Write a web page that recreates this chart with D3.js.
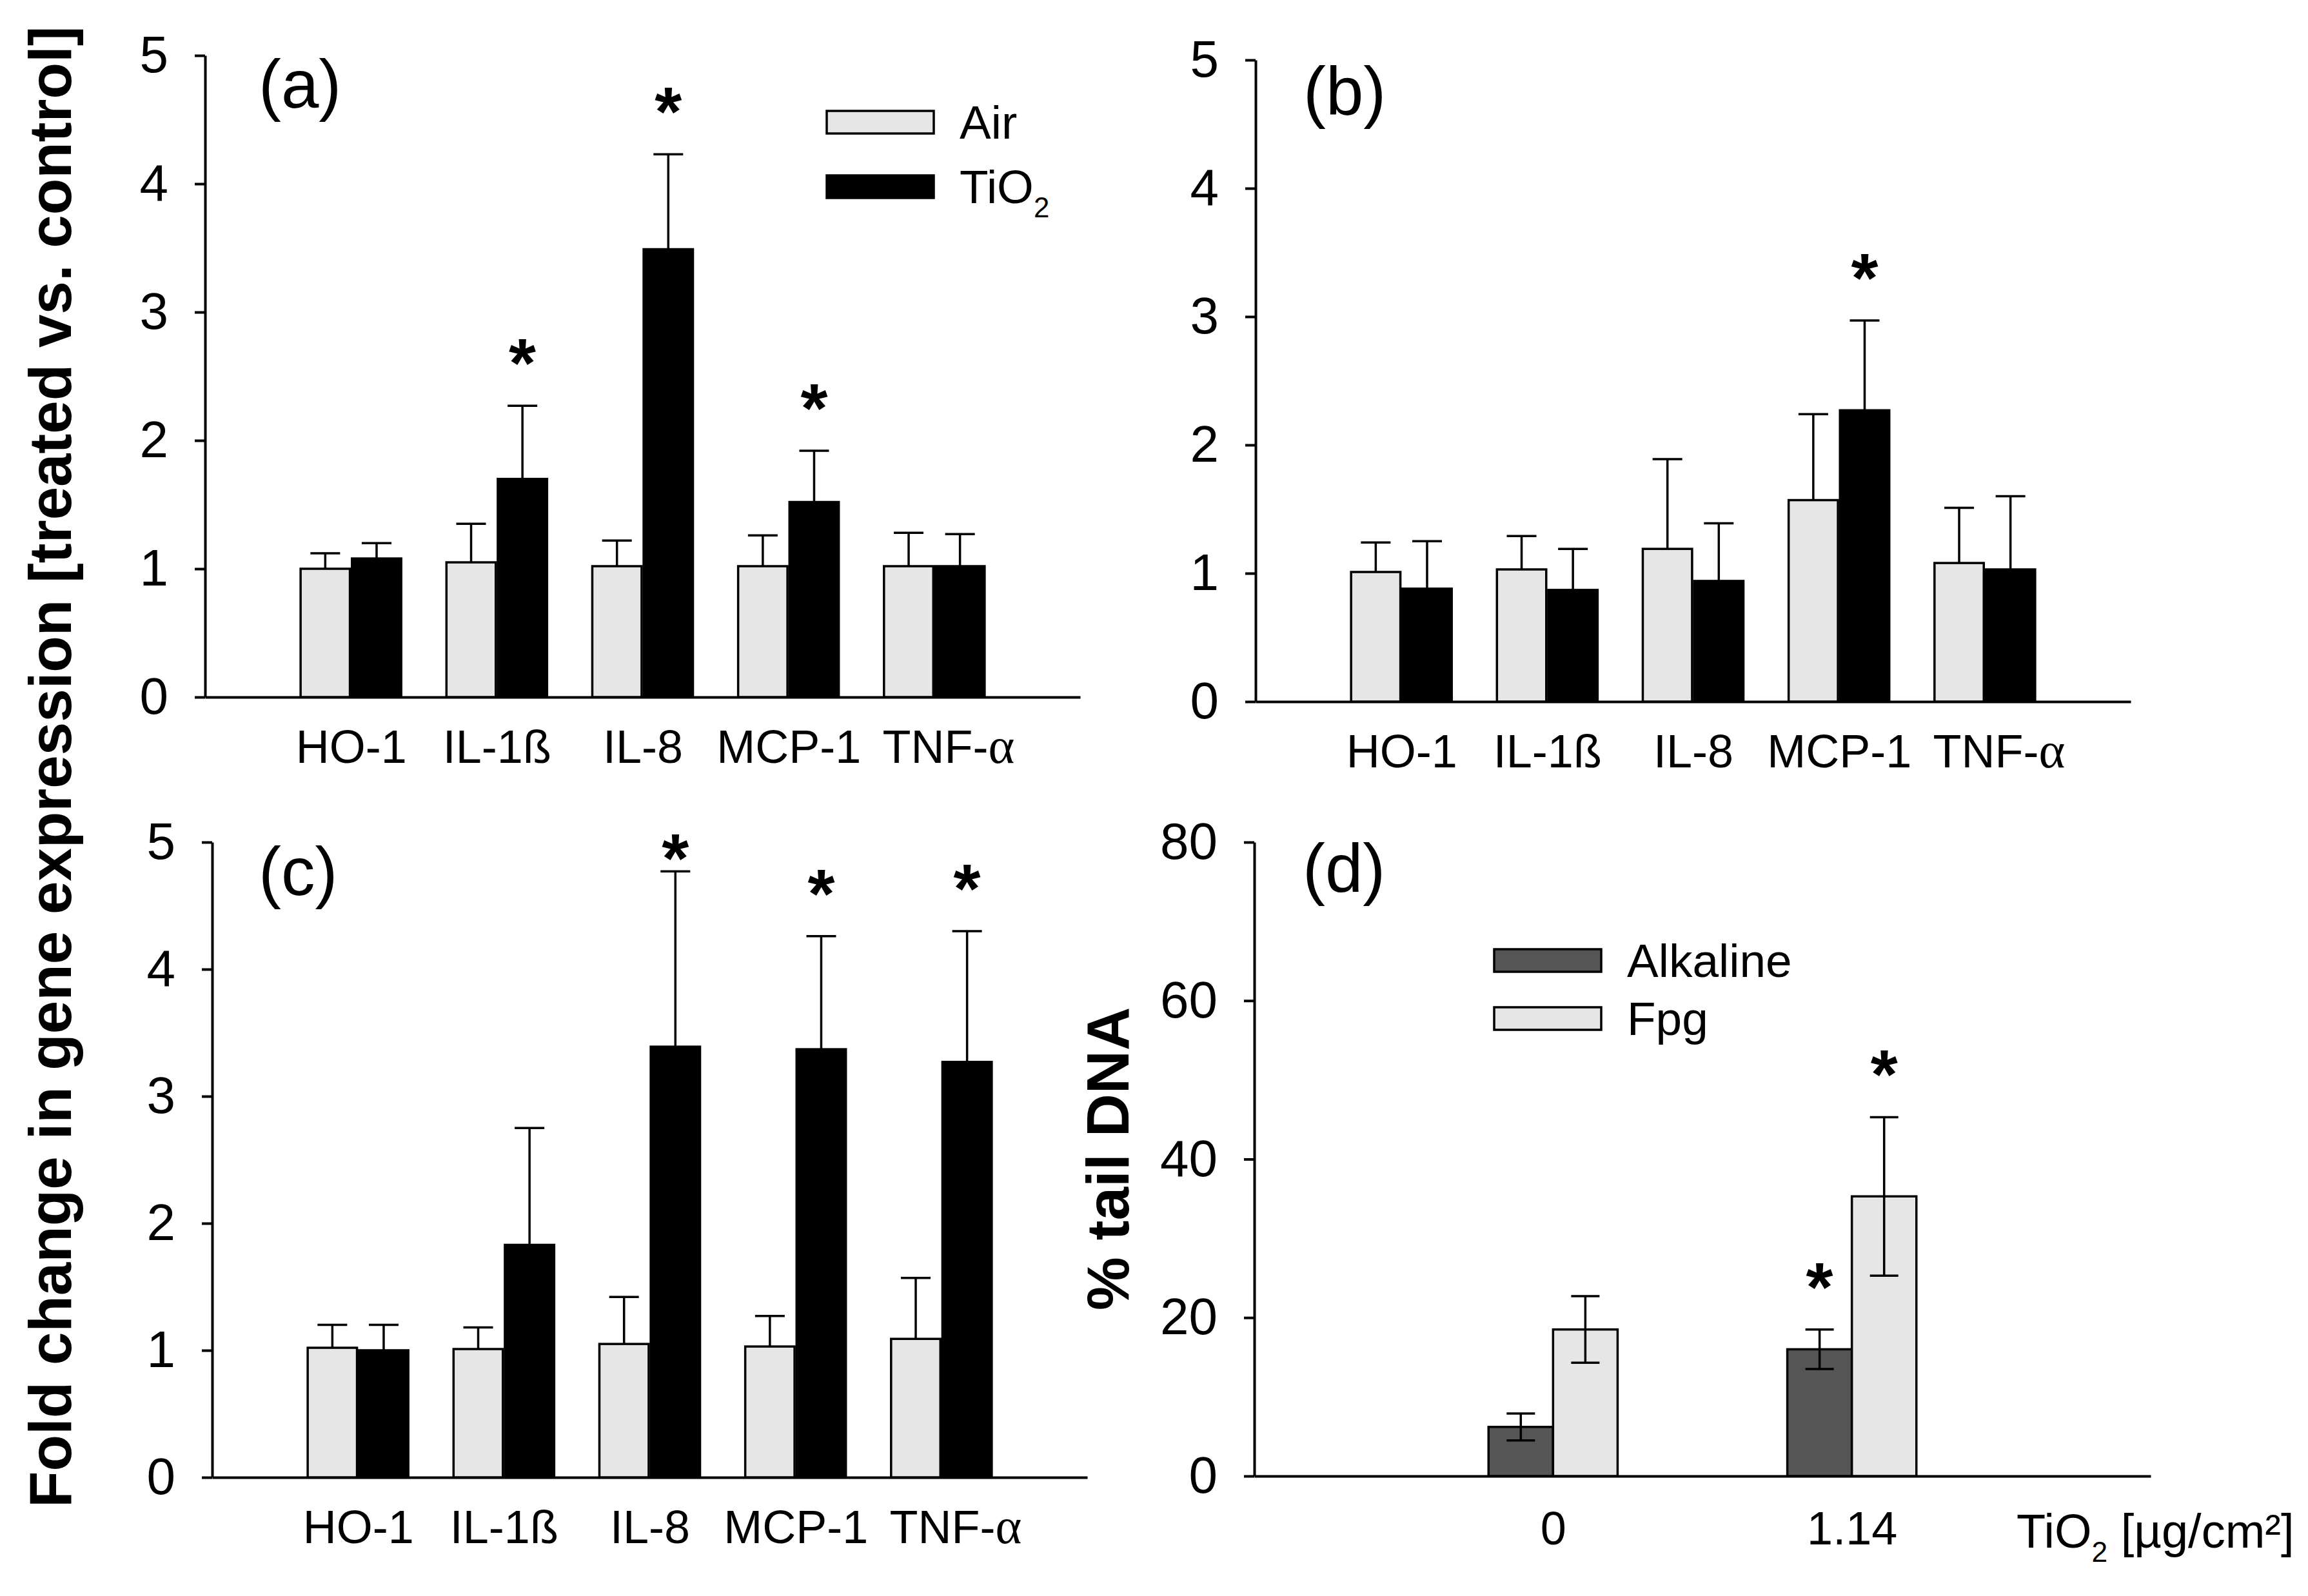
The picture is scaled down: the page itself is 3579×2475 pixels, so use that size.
<!DOCTYPE html>
<html>
<head>
<meta charset="utf-8">
<script src="https://cdn.jsdelivr.net/npm/d3@7/dist/d3.min.js"></script>
<style>
    body { margin: 0; background: #fff; }
    text { font-family: "Liberation Sans", Arial, sans-serif; fill: #000; }
    .axis path, .axis line { stroke: #000; stroke-width: 4; }
    .axis text { font-size: 80px; font-family: "Liberation Sans", Arial, sans-serif; }
    .cat-axis text { font-size: 72px; }
</style>
</head>
<body>
<div id="chart"></div>
<script>

// ---- gene expression, panels (a) - (c) ----
const genes = ["HO-1", "IL-1ß", "IL-8", "MCP-1", "TNF-α"];
const foldTicks = [0, 1, 2, 3, 4, 5];
const exposureNames = ["Air", "TiO2"];

const airA    = [1.00, 1.05, 1.02, 1.02, 1.02];
const airSdA  = [0.12, 0.30, 0.20, 0.24, 0.26];
const tio2A   = [1.08, 1.70, 3.49, 1.52, 1.02];
const tio2SdA = [0.12, 0.57, 0.74, 0.40, 0.25];
const sigA    = [false, true, true, true, false];

const airB    = [1.01, 1.03, 1.19, 1.57, 1.08];
const airSdB  = [0.23, 0.26, 0.70, 0.67, 0.43];
const tio2B   = [0.88, 0.87, 0.94, 2.27, 1.03];
const tio2SdB = [0.37, 0.32, 0.45, 0.70, 0.57];
const sigB    = [false, false, false, true, false];

const airC    = [1.02, 1.01, 1.05, 1.03, 1.09];
const airSdC  = [0.18, 0.17, 0.37, 0.24, 0.48];
const tio2C   = [1.00, 1.83, 3.39, 3.37, 3.27];
const tio2SdC = [0.20, 0.92, 1.38, 0.89, 1.03];
const sigC    = [false, false, true, true, true];

// ---- comet assay, panel (d) ----
const doses = ["0", "1.14"];
const tailTicks = [0, 20, 40, 60, 80];
const assayNames = ["Alkaline", "Fpg"];
const alkaline   = [6.2, 16.0];
const alkalineSd = [1.7, 2.5];
const fpg        = [18.5, 35.3];
const fpgSd      = [4.2, 10.0];
const sigAlk     = [false, true];
const sigFpg     = [false, true];

const LIGHT = "#e6e6e6", BLACK = "#000000", DARK = "#555555";

// writes "TiO2" with a lowered 2
function chemText(sel, str, size) {
    let parts = str.split("TiO2");
    sel.append("tspan").text(parts[0] + "TiO");
    sel.append("tspan").attr("font-size", size * 0.6).attr("dy", size * 0.3).text("2");
    if (parts[1]) sel.append("tspan").attr("dy", -size * 0.3).text(parts[1]);
}

class BarPanel {

    constructor(_svg, _opts) {
        this.svg = _svg;
        Object.assign(this, _opts);
        this.initVis();
    }

    initVis() {
        let vis = this;
        vis.g = vis.svg.append("g");

        vis.x = d3.scaleLinear().domain([0, vis.xMax]).range([vis.left, vis.right]);
        vis.y = d3.scaleLinear().domain([0, vis.yMax]).range([vis.bottom, vis.top]);

        vis.g.append("g")
            .attr("class", "axis")
            .attr("transform", `translate(${vis.left},0)`)
            .call(d3.axisLeft(vis.y)
                .tickValues(vis.ticks)
                .tickFormat(d3.format("d"))
                .tickSize(16).tickSizeOuter(0).tickPadding(41));

        vis.g.append("g")
            .attr("class", "axis cat-axis")
            .attr("transform", `translate(0,${vis.bottom})`)
            .call(d3.axisBottom(vis.x)
                .tickValues(vis.categories.map((c, i) => i + 1))
                .tickFormat(d => vis.categories[d - 1])
                .tickSize(0).tickSizeOuter(0).tickPadding(vis.labelPad))
            .selectAll(".tick text")
            .each(function(d) {
                let label = vis.categories[d - 1];
                if (label.indexOf("α") < 0) return;
                // the greek letter was set in a symbol (serif) face
                let t = d3.select(this).text(null).attr("dx", "0.3em");
                t.append("tspan").text(label.replace("α", ""));
                t.append("tspan").attr("font-family", "'Liberation Serif', 'DejaVu Serif', serif")
                    .attr("font-size", 78).text("α");
            });

        vis.g.selectAll(".domain").attr("fill", "none");

        // panel letter
        vis.g.append("text")
            .attr("x", vis.letterX).attr("y", vis.letterY)
            .attr("font-size", 105)
            .text(vis.letter);

        vis.updateVis();
    }

    updateVis() {
        let vis = this;

        vis.series.forEach(s => {
            let rows = s.values.map((v, i) => ({v: v, sd: s.sd[i], sig: s.sig[i], pos: i + 1}));
            let g = vis.g.append("g");

            g.selectAll("rect")
                .data(rows)
                .enter()
                .append("rect")
                .attr("x", d => vis.x(d.pos + s.from))
                .attr("width", vis.x(s.to) - vis.x(s.from))
                .attr("y", d => vis.y(d.v))
                .attr("height", d => vis.y(0) - vis.y(d.v))
                .attr("fill", s.fill)
                .attr("stroke", "#000")
                .attr("stroke-width", 3.5);

            let cx = d => vis.x(d.pos + (s.from + s.to) / 2);
            let lo = d => vis.both ? vis.y(d.v - d.sd) : vis.y(d.v);

            g.selectAll(".err")
                .data(rows)
                .enter()
                .append("line")
                .attr("x1", cx).attr("x2", cx)
                .attr("y1", lo)
                .attr("y2", d => vis.y(d.v + d.sd))
                .attr("stroke", "#000").attr("stroke-width", 3.5);

            g.selectAll(".cap-top")
                .data(rows)
                .enter()
                .append("line")
                .attr("x1", d => cx(d) - vis.cap).attr("x2", d => cx(d) + vis.cap)
                .attr("y1", d => vis.y(d.v + d.sd)).attr("y2", d => vis.y(d.v + d.sd))
                .attr("stroke", "#000").attr("stroke-width", 3.5);

            if (vis.both) {
                g.selectAll(".cap-low")
                    .data(rows)
                    .enter()
                    .append("line")
                    .attr("x1", d => cx(d) - vis.cap).attr("x2", d => cx(d) + vis.cap)
                    .attr("y1", d => vis.y(d.v - d.sd)).attr("y2", d => vis.y(d.v - d.sd))
                    .attr("stroke", "#000").attr("stroke-width", 3.5);
            }

            // significance stars
            g.selectAll(".star")
                .data(rows.filter(d => d.sig))
                .enter()
                .append("text")
                .attr("x", cx)
                .attr("y", d => Math.max(vis.y(d.v + d.sd) - 91, vis.top) + 62)
                .attr("text-anchor", "middle")
                .attr("font-size", 108)
                .attr("font-weight", "bold")
                .text("*");
        });

        // legend
        if (vis.legend) {
            let lg = vis.g.append("g");
            vis.series.forEach((s, i) => {
                let ly = vis.legend.y + i * vis.legend.gap;
                lg.append("rect")
                    .attr("x", vis.legend.x).attr("y", ly)
                    .attr("width", 166).attr("height", 35)
                    .attr("fill", s.fill).attr("stroke", "#000").attr("stroke-width", 3.5);
                let t = lg.append("text")
                    .attr("x", vis.legend.x + 206).attr("y", ly + 43)
                    .attr("font-size", 73);
                if (s.name.indexOf("TiO2") >= 0) chemText(t, s.name, 73);
                else t.text(s.name);
            });
        }
    }
}

const svg = d3.select("#chart").append("svg")
    .attr("width", 3579)
    .attr("height", 2475);

svg.append("rect").attr("width", 3579).attr("height", 2475).attr("fill", "#fff");

function geneSeries(air, airSd, tio2, tio2Sd, sig) {
    return [
        {name: exposureNames[0], values: air, sd: airSd, sig: air.map(() => false), fill: LIGHT, from: -0.345, to: -0.007},
        {name: exposureNames[1], values: tio2, sd: tio2Sd, sig: sig, fill: BLACK, from: 0.007, to: 0.345}
    ];
}

new BarPanel(svg, {
    left: 318, right: 1675, top: 86, bottom: 1081, xMax: 6, yMax: 5, ticks: foldTicks,
    categories: genes, labelPad: 51, letter: "(a)", letterX: 401, letterY: 167, cap: 23, both: false,
    series: geneSeries(airA, airSdA, tio2A, tio2SdA, sigA),
    legend: {x: 1282, y: 172, gap: 100}
});

new BarPanel(svg, {
    left: 1947, right: 3304, top: 93, bottom: 1088, xMax: 6, yMax: 5, ticks: foldTicks,
    categories: genes, labelPad: 51, letter: "(b)", letterX: 2021, letterY: 178, cap: 23, both: false,
    series: geneSeries(airB, airSdB, tio2B, tio2SdB, sigB)
});

new BarPanel(svg, {
    left: 329, right: 1686, top: 1306, bottom: 2291, xMax: 6, yMax: 5, ticks: foldTicks,
    categories: genes, labelPad: 51, letter: "(c)", letterX: 401, letterY: 1388, cap: 23, both: false,
    series: geneSeries(airC, airSdC, tio2C, tio2SdC, sigC)
});

new BarPanel(svg, {
    left: 1945, right: 3335, top: 1306, bottom: 2289, xMax: 3, yMax: 80, ticks: tailTicks,
    categories: doses, labelPad: 55, letter: "(d)", letterX: 2020, letterY: 1383, cap: 22, both: true,
    series: [
        {name: assayNames[0], values: alkaline, sd: alkalineSd, sig: sigAlk, fill: DARK, from: -0.216, to: 0},
        {name: assayNames[1], values: fpg, sd: fpgSd, sig: sigFpg, fill: LIGHT, from: 0, to: 0.216}
    ],
    legend: {x: 2317, y: 1472, gap: 90}
});

// axis titles
svg.append("text")
    .attr("transform", "translate(110,2338) rotate(-90)")
    .attr("font-size", 92.5)
    .attr("font-weight", "bold")
    .text("Fold change in gene expression [treated vs. control]");

svg.append("text")
    .attr("transform", "translate(1750,1797) rotate(-90)")
    .attr("text-anchor", "middle")
    .attr("font-size", 93)
    .attr("font-weight", "bold")
    .text("% tail DNA");

let doseTitle = svg.append("text")
    .attr("x", 3127).attr("y", 2400)
    .attr("font-size", 74);
chemText(doseTitle, "TiO2 [µg/cm²]", 74);

</script>
</body>
</html>
